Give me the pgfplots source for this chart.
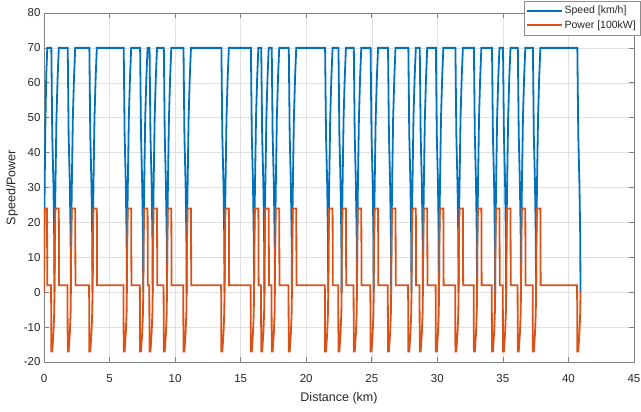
\documentclass[border=0pt]{standalone}
\usepackage{fontspec}
\setmainfont{Liberation Sans}
\usepackage{pgfplots}
\pgfplotsset{compat=1.18}
\definecolor{mblue}{rgb}{0,0.447,0.741}
\definecolor{morange}{rgb}{0.85,0.325,0.098}
\begin{document}
\begin{tikzpicture}
\begin{axis}[
 at={(0pt,0pt)}, anchor=south west,
 scale only axis, width=590pt, height=349pt,
 xmin=0, xmax=45, ymin=-20, ymax=80,
 xtick={0,5,...,45}, ytick={-20,-10,...,80},
 grid=major, major grid style={black!12, line width=0.5pt},
 axis line style={black!50, line width=0.6pt},
 tick style={black!50, line width=0.6pt}, major tick length=5pt,
 /pgf/number format/assume math mode=true,
 ticklabel style={font=\fontsize{11.5}{13}\selectfont, text=black!85},
 xticklabel style={yshift=-9pt},
 xlabel={Distance (km)}, ylabel={Speed/Power},
 label style={font=\fontsize{12.5}{14}\selectfont, text=black!85},
 xlabel style={at={(axis description cs:0.5,-0.103)}, anchor=center},
 ylabel style={at={(axis description cs:-0.0542,0.5)}, anchor=center},
 legend style={at={(axis description cs:1.0102,0.937)}, anchor=south east,
   draw=black!45, fill=white,
   font=\fontsize{10.5}{12}\selectfont, text=black!85,
   inner xsep=2.5pt, inner ysep=3.5pt, row sep=2.5pt,
   nodes={inner sep=1.5pt}},
 legend cell align=left,
 legend image code/.code={\draw[#1, line width=1.8pt] (0pt,0pt) -- (35pt,0pt);},
]
\addplot[mblue, line width=1.8pt] coordinates {
(0,0)(0.02,16)(0.05,30)(0.10,47)(0.17,62)(0.25,70)
(0.56,70)(0.63,45)(0.72,30.9)(0.78,15.4)(0.80,0)(0.82,16)(0.87,30)(0.95,49.9)(1.04,61.6)(1.13,70)
(1.81,70)(1.88,45)(1.97,30.9)(2.03,15.4)(2.05,0)(2.07,16)(2.12,30)(2.20,49.9)(2.29,61.6)(2.38,70)
(3.46,70)(3.53,45)(3.62,30.9)(3.68,15.4)(3.70,0)(3.72,16)(3.77,30)(3.85,49.9)(3.94,61.6)(4.03,70)
(6.08,70)(6.15,45)(6.24,30.9)(6.30,15.4)(6.32,0)(6.34,16)(6.39,30)(6.47,49.9)(6.56,61.6)(6.65,70)
(7.33,70)(7.40,45)(7.49,30.9)(7.55,15.4)(7.57,0)(7.59,16)(7.64,30)(7.72,49.9)(7.81,61.6)(7.90,70)
(8.05,70)(8.12,45)(8.21,30.9)(8.27,15.4)(8.29,0)(8.31,16)(8.36,30)(8.44,49.9)(8.53,61.6)(8.62,70)
(9.14,70)(9.21,45)(9.30,30.9)(9.36,15.4)(9.38,0)(9.40,16)(9.45,30)(9.53,49.9)(9.62,61.6)(9.71,70)
(10.64,70)(10.71,45)(10.80,30.9)(10.86,15.4)(10.88,0)(10.90,16)(10.95,30)(11.03,49.9)(11.12,61.6)(11.21,70)
(13.53,70)(13.60,45)(13.69,30.9)(13.75,15.4)(13.77,0)(13.79,16)(13.84,30)(13.92,49.9)(14.01,61.6)(14.10,70)
(15.78,70)(15.85,45)(15.94,30.9)(16.00,15.4)(16.02,0)(16.04,16)(16.09,30)(16.17,49.9)(16.26,61.6)(16.35,70)
(16.57,70)(16.64,45)(16.73,30.9)(16.79,15.4)(16.81,0)(16.83,16)(16.88,30)(16.96,49.9)(17.05,61.6)(17.14,70)
(17.37,70)(17.44,45)(17.53,30.9)(17.59,15.4)(17.61,0)(17.63,16)(17.68,30)(17.76,49.9)(17.85,61.6)(17.94,70)
(18.67,70)(18.74,45)(18.83,30.9)(18.89,15.4)(18.91,0)(18.93,16)(18.98,30)(19.06,49.9)(19.15,61.6)(19.24,70)
(21.44,70)(21.51,45)(21.60,30.9)(21.66,15.4)(21.68,0)(21.70,16)(21.75,30)(21.83,49.9)(21.92,61.6)(22.01,70)
(22.46,70)(22.53,45)(22.62,30.9)(22.68,15.4)(22.70,0)(22.72,16)(22.77,30)(22.85,49.9)(22.94,61.6)(23.03,70)
(23.63,70)(23.70,45)(23.79,30.9)(23.85,15.4)(23.87,0)(23.89,16)(23.94,30)(24.02,49.9)(24.11,61.6)(24.20,70)
(24.91,70)(24.98,45)(25.07,30.9)(25.13,15.4)(25.15,0)(25.17,16)(25.22,30)(25.30,49.9)(25.39,61.6)(25.48,70)
(26.24,70)(26.31,45)(26.40,30.9)(26.46,15.4)(26.48,0)(26.50,16)(26.55,30)(26.63,49.9)(26.72,61.6)(26.81,70)
(27.79,70)(27.86,45)(27.95,30.9)(28.01,15.4)(28.03,0)(28.05,16)(28.10,30)(28.18,49.9)(28.27,61.6)(28.36,70)
(28.66,70)(28.73,45)(28.82,30.9)(28.88,15.4)(28.90,0)(28.92,16)(28.97,30)(29.05,49.9)(29.14,61.6)(29.23,70)
(29.89,70)(29.96,45)(30.05,30.9)(30.11,15.4)(30.13,0)(30.15,16)(30.20,30)(30.28,49.9)(30.37,61.6)(30.46,70)
(31.38,70)(31.45,45)(31.54,30.9)(31.60,15.4)(31.62,0)(31.64,16)(31.69,30)(31.77,49.9)(31.86,61.6)(31.95,70)
(32.79,70)(32.86,45)(32.95,30.9)(33.01,15.4)(33.03,0)(33.05,16)(33.10,30)(33.18,49.9)(33.27,61.6)(33.36,70)
(34.17,70)(34.24,45)(34.33,30.9)(34.39,15.4)(34.41,0)(34.43,16)(34.48,30)(34.56,49.9)(34.65,61.6)(34.74,70)
(35.01,70)(35.08,45)(35.17,30.9)(35.23,15.4)(35.25,0)(35.27,16)(35.32,30)(35.40,49.9)(35.49,61.6)(35.58,70)
(36.14,70)(36.21,45)(36.30,30.9)(36.36,15.4)(36.38,0)(36.40,16)(36.45,30)(36.53,49.9)(36.62,61.6)(36.71,70)
(37.29,70)(37.36,45)(37.45,30.9)(37.51,15.4)(37.53,0)(37.55,16)(37.60,30)(37.68,49.9)(37.77,61.6)(37.86,70)
(40.68,70)(40.75,45)(40.84,30.9)(40.90,15.4)(40.92,0)
};
\addlegendentry{Speed [km/h]}
\addplot[morange, line width=1.8pt] coordinates {
(0,0)(0.015,13)(0.05,24)(0.23,24)(0.25,2)
(0.54,2)(0.56,-17)(0.63,-17)(0.72,-11.7)(0.78,-5.8)(0.80,0)(0.82,12.8)(0.87,24)(1.13,24)(1.15,2)
(1.79,2)(1.81,-17)(1.88,-17)(1.97,-11.7)(2.03,-5.8)(2.05,0)(2.07,12.8)(2.12,24)(2.38,24)(2.40,2)
(3.44,2)(3.46,-17)(3.53,-17)(3.62,-11.7)(3.68,-5.8)(3.70,0)(3.72,12.8)(3.77,24)(4.03,24)(4.05,2)
(6.06,2)(6.08,-17)(6.15,-17)(6.24,-11.7)(6.30,-5.8)(6.32,0)(6.34,12.8)(6.39,24)(6.65,24)(6.67,2)
(7.31,2)(7.33,-17)(7.40,-17)(7.49,-11.7)(7.55,-5.8)(7.57,0)(7.59,12.8)(7.64,24)(7.90,24)(7.92,2)
(8.03,2)(8.05,-17)(8.12,-17)(8.21,-11.7)(8.27,-5.8)(8.29,0)(8.31,12.8)(8.36,24)(8.62,24)(8.64,2)
(9.12,2)(9.14,-17)(9.21,-17)(9.30,-11.7)(9.36,-5.8)(9.38,0)(9.40,12.8)(9.45,24)(9.71,24)(9.73,2)
(10.62,2)(10.64,-17)(10.71,-17)(10.80,-11.7)(10.86,-5.8)(10.88,0)(10.90,12.8)(10.95,24)(11.21,24)(11.23,2)
(13.51,2)(13.53,-17)(13.60,-17)(13.69,-11.7)(13.75,-5.8)(13.77,0)(13.79,12.8)(13.84,24)(14.10,24)(14.12,2)
(15.76,2)(15.78,-17)(15.85,-17)(15.94,-11.7)(16.00,-5.8)(16.02,0)(16.04,12.8)(16.09,24)(16.35,24)(16.37,2)
(16.55,2)(16.57,-17)(16.64,-17)(16.73,-11.7)(16.79,-5.8)(16.81,0)(16.83,12.8)(16.88,24)(17.14,24)(17.16,2)
(17.35,2)(17.37,-17)(17.44,-17)(17.53,-11.7)(17.59,-5.8)(17.61,0)(17.63,12.8)(17.68,24)(17.94,24)(17.96,2)
(18.65,2)(18.67,-17)(18.74,-17)(18.83,-11.7)(18.89,-5.8)(18.91,0)(18.93,12.8)(18.98,24)(19.24,24)(19.26,2)
(21.42,2)(21.44,-17)(21.51,-17)(21.60,-11.7)(21.66,-5.8)(21.68,0)(21.70,12.8)(21.75,24)(22.01,24)(22.03,2)
(22.44,2)(22.46,-17)(22.53,-17)(22.62,-11.7)(22.68,-5.8)(22.70,0)(22.72,12.8)(22.77,24)(23.03,24)(23.05,2)
(23.61,2)(23.63,-17)(23.70,-17)(23.79,-11.7)(23.85,-5.8)(23.87,0)(23.89,12.8)(23.94,24)(24.20,24)(24.22,2)
(24.89,2)(24.91,-17)(24.98,-17)(25.07,-11.7)(25.13,-5.8)(25.15,0)(25.17,12.8)(25.22,24)(25.48,24)(25.50,2)
(26.22,2)(26.24,-17)(26.31,-17)(26.40,-11.7)(26.46,-5.8)(26.48,0)(26.50,12.8)(26.55,24)(26.81,24)(26.83,2)
(27.77,2)(27.79,-17)(27.86,-17)(27.95,-11.7)(28.01,-5.8)(28.03,0)(28.05,12.8)(28.10,24)(28.36,24)(28.38,2)
(28.64,2)(28.66,-17)(28.73,-17)(28.82,-11.7)(28.88,-5.8)(28.90,0)(28.92,12.8)(28.97,24)(29.23,24)(29.25,2)
(29.87,2)(29.89,-17)(29.96,-17)(30.05,-11.7)(30.11,-5.8)(30.13,0)(30.15,12.8)(30.20,24)(30.46,24)(30.48,2)
(31.36,2)(31.38,-17)(31.45,-17)(31.54,-11.7)(31.60,-5.8)(31.62,0)(31.64,12.8)(31.69,24)(31.95,24)(31.97,2)
(32.77,2)(32.79,-17)(32.86,-17)(32.95,-11.7)(33.01,-5.8)(33.03,0)(33.05,12.8)(33.10,24)(33.36,24)(33.38,2)
(34.15,2)(34.17,-17)(34.24,-17)(34.33,-11.7)(34.39,-5.8)(34.41,0)(34.43,12.8)(34.48,24)(34.74,24)(34.76,2)
(34.99,2)(35.01,-17)(35.08,-17)(35.17,-11.7)(35.23,-5.8)(35.25,0)(35.27,12.8)(35.32,24)(35.58,24)(35.60,2)
(36.12,2)(36.14,-17)(36.21,-17)(36.30,-11.7)(36.36,-5.8)(36.38,0)(36.40,12.8)(36.45,24)(36.71,24)(36.73,2)
(37.27,2)(37.29,-17)(37.36,-17)(37.45,-11.7)(37.51,-5.8)(37.53,0)(37.55,12.8)(37.60,24)(37.86,24)(37.88,2)
(40.66,2)(40.68,-17)(40.75,-17)(40.84,-11.7)(40.90,-5.8)(40.92,0)
};
\addlegendentry{Power [100kW]}
\end{axis}
\pgfresetboundingbox
\path[use as bounding box] (-44pt,-50pt) rectangle (597pt,362pt);
\end{tikzpicture}
\end{document}
